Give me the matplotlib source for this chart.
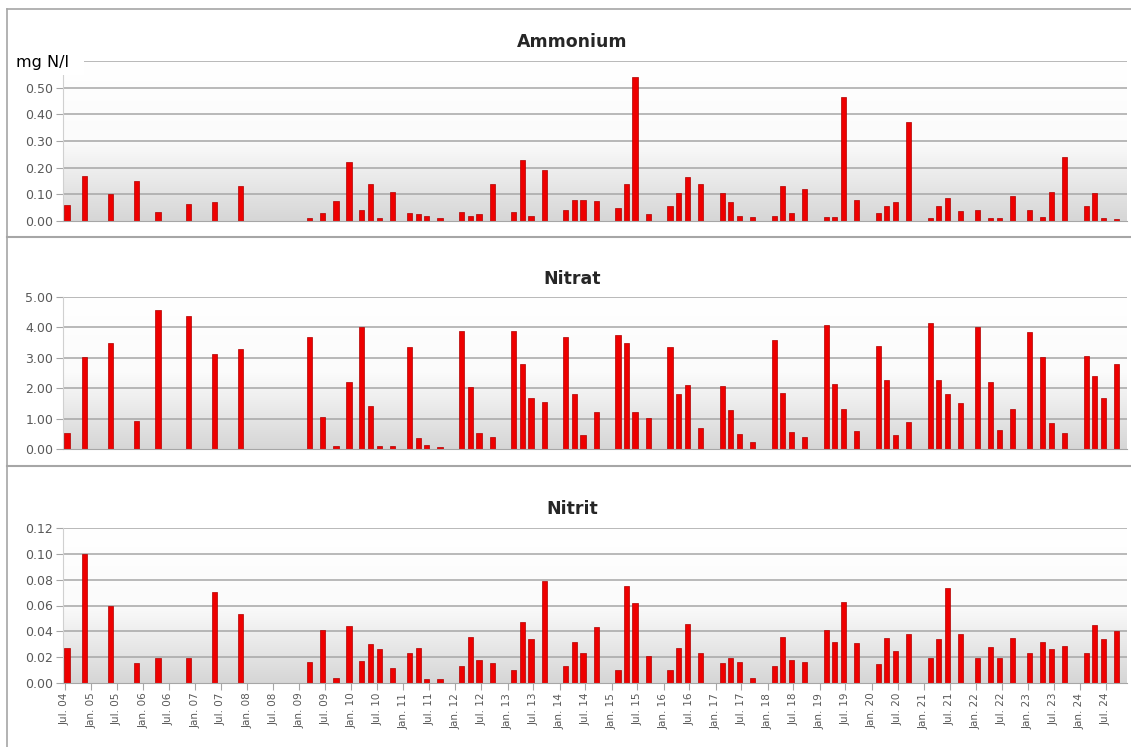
import numpy as np
import matplotlib.pyplot as plt
import matplotlib.dates as mdates
import pandas as pd
from matplotlib.colors import LinearSegmentedColormap
from matplotlib.lines import Line2D
from matplotlib.patches import Rectangle

# sampling months (same samples in all three panels)
sample_months = ['2004-07', '2004-11', '2005-05', '2005-11', '2006-04', '2006-11', '2007-05', '2007-11',
                 '2009-03', '2009-06', '2009-09', '2009-12', '2010-03', '2010-05', '2010-07', '2010-10',
                 '2011-02', '2011-04', '2011-06', '2011-09',
                 '2012-02', '2012-04', '2012-06', '2012-09',
                 '2013-02', '2013-04', '2013-06', '2013-09',
                 '2014-02', '2014-04', '2014-06', '2014-09',
                 '2015-02', '2015-04', '2015-06', '2015-09',
                 '2016-02', '2016-04', '2016-06', '2016-09',
                 '2017-02', '2017-04', '2017-06', '2017-09',
                 '2018-02', '2018-04', '2018-06', '2018-09',
                 '2019-02', '2019-04', '2019-06', '2019-09',
                 '2020-02', '2020-04', '2020-06', '2020-09',
                 '2021-02', '2021-04', '2021-06', '2021-09',
                 '2022-01', '2022-04', '2022-06', '2022-09',
                 '2023-01', '2023-04', '2023-06', '2023-09',
                 '2024-02', '2024-04', '2024-06', '2024-09']

ammonium = [0.06, 0.17, 0.10, 0.15, 0.035, 0.065, 0.07, 0.13,
            0.01, 0.03, 0.075, 0.22, 0.04, 0.14, 0.01, 0.11,
            0.03, 0.026, 0.018, 0.01,
            0.035, 0.02, 0.026, 0.14,
            0.035, 0.23, 0.02, 0.19,
            0.04, 0.08, 0.08, 0.075,
            0.047, 0.14, 0.54, 0.025,
            0.055, 0.105, 0.165, 0.137,
            0.105, 0.07, 0.02, 0.016,
            0.018, 0.13, 0.03, 0.12,
            0.014, 0.014, 0.466, 0.08,
            0.03, 0.055, 0.07, 0.37,
            0.01, 0.055, 0.085, 0.037,
            0.04, 0.01, 0.01, 0.095,
            0.04, 0.014, 0.11, 0.24,
            0.056, 0.105, 0.01, 0.008]

nitrat = [0.52, 3.02, 3.50, 0.93, 4.58, 4.38, 3.13, 3.30,
          3.68, 1.04, 0.11, 2.20, 4.01, 1.43, 0.11, 0.11,
          3.35, 0.35, 0.13, 0.05,
          3.87, 2.03, 0.54, 0.41,
          3.87, 2.80, 1.67, 1.54,
          3.68, 1.81, 0.46, 1.23,
          3.74, 3.50, 1.23, 1.01,
          3.34, 1.81, 2.11, 0.68,
          2.08, 1.29, 0.48, 0.24,
          3.57, 1.84, 0.57, 0.38,
          4.09, 2.14, 1.32, 0.59,
          3.40, 2.27, 0.46, 0.90,
          4.14, 2.27, 1.80, 1.51,
          4.00, 2.22, 0.63, 1.32,
          3.85, 3.02, 0.85, 0.54,
          3.07, 2.41, 1.67, 2.79]

nitrit = [0.027, 0.100, 0.060, 0.0155, 0.0196, 0.0196, 0.0705, 0.0537,
          0.016, 0.041, 0.004, 0.044, 0.017, 0.030, 0.026, 0.012,
          0.023, 0.027, 0.003, 0.003,
          0.013, 0.036, 0.018, 0.0155,
          0.010, 0.047, 0.034, 0.079,
          0.013, 0.032, 0.023, 0.043,
          0.010, 0.075, 0.062, 0.021,
          0.010, 0.027, 0.046, 0.023,
          0.0155, 0.019, 0.016, 0.004,
          0.013, 0.036, 0.0175, 0.016,
          0.041, 0.032, 0.063, 0.031,
          0.015, 0.035, 0.025, 0.038,
          0.019, 0.034, 0.0735, 0.038,
          0.019, 0.028, 0.019, 0.035,
          0.023, 0.032, 0.026, 0.029,
          0.023, 0.045, 0.034, 0.040]

panel_titles = ['Ammonium', 'Nitrat', 'Nitrit']
panel_yticks = [[0.0, 0.1, 0.2, 0.3, 0.4, 0.5, 0.6],
                [0.0, 1.0, 2.0, 3.0, 4.0, 5.0],
                [0.0, 0.02, 0.04, 0.06, 0.08, 0.10, 0.12]]

tick_dates = pd.date_range('2004-07-01', '2024-07-01', freq='6MS')
tick_labels = [d.strftime('%b. %y') for d in tick_dates]

W, H = 1131, 747
def fx(px):
    return px / W
def fy(py):
    return 1 - py / H

grid_col = '#a6a6a6'
txt_col = '#595959'
bg_cmap = LinearSegmentedColormap.from_list('bg', ['#ffffff', '#fbfbfb', '#d6d6d6'])

xdates = mdates.date2num(pd.to_datetime(sample_months) + pd.Timedelta(days=14))
xmin = mdates.date2num(pd.Timestamp('2004-06-17'))
xmax = mdates.date2num(pd.Timestamp('2024-11-27'))

fig = plt.figure(figsize=(W / 100, H / 100), dpi=100)

# (top px, bottom px) of each plot area
boxes = [(61, 221), (297, 449), (528, 683)]
title_y = [42, 279, 509]
left_px, right_px = 63, 1127

axes = []
for i, vals in enumerate([ammonium, nitrat, nitrit]):
    top, bot = boxes[i]
    ax = fig.add_axes([fx(left_px), fy(bot), fx(right_px) - fx(left_px), (bot - top) / H])
    ax.imshow(np.linspace(0, 1, 256).reshape(-1, 1), cmap=bg_cmap, extent=[0, 1, 0, 1],
              transform=ax.transAxes, aspect='auto', zorder=0)
    yt = panel_yticks[i]
    for y in yt[1:]:
        ax.axhline(y, color=grid_col, lw=1.1, zorder=1)
    ax.bar(xdates, vals, width=36, color='#ee0000', edgecolor='#b00000', lw=0.5, zorder=3)
    ax.set_xlim(xmin, xmax)
    ax.set_ylim(0, yt[-1])
    ax.set_yticks(yt)
    labs = ['%.2f' % y for y in yt]
    if i == 0:
        labs[-1] = ''
    ax.set_yticklabels(labs)
    ax.tick_params(axis='y', length=5, width=0.8, color=grid_col, labelsize=9,
                   labelcolor=txt_col, pad=2)
    for s in ['top', 'right']:
        ax.spines[s].set_visible(False)
    ax.spines['left'].set_color('#d0d0d0')
    ax.spines['bottom'].set_color(grid_col)
    ax.spines['bottom'].set_zorder(4)
    if i < 2:
        ax.set_xticks([])
    else:
        ax.set_xticks(mdates.date2num(tick_dates))
        ax.set_xticklabels(tick_labels, rotation=90)
        ax.tick_params(axis='x', length=5, width=0.8, color=grid_col, labelsize=7.5,
                       labelcolor=txt_col, pad=2)
    fig.text(fx(572), fy(title_y[i]), panel_titles[i], ha='center', va='center',
             fontsize=12.5, fontweight='bold', color='#262626')
    axes.append(ax)

# unit label with white box over the top gridline
fig.add_artist(Rectangle((fx(9), fy(75)), fx(84) - fx(9), 26 / H, transform=fig.transFigure,
                         facecolor='white', edgecolor='none', zorder=2.5))
fig.text(fx(16), fy(62), 'mg N/l', ha='left', va='center', fontsize=11.5, color='black', zorder=3)

# chart borders
border = '#a6a6a6'
fig.add_artist(Line2D([fx(7), fx(1131)], [fy(9), fy(9)], color=border, lw=1.2))
fig.add_artist(Line2D([fx(7), fx(7)], [fy(9), fy(747)], color=border, lw=1.2))
fig.add_artist(Line2D([fx(7), fx(1131)], [fy(237), fy(237)], color=border, lw=1.5))
fig.add_artist(Line2D([fx(7), fx(1131)], [fy(466), fy(466)], color=border, lw=1.5))

fig.savefig('out.png', dpi=100)
